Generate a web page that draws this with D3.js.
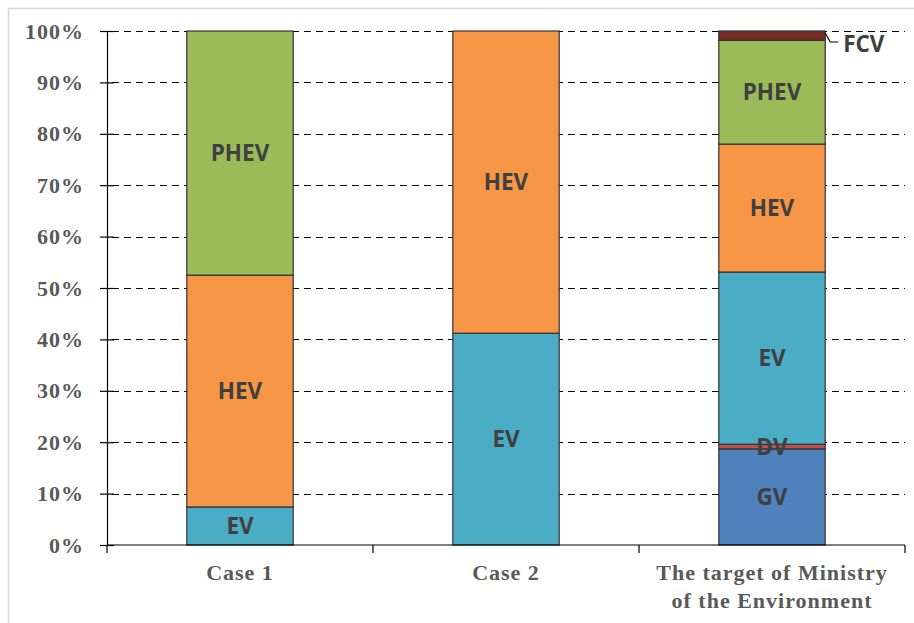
<!DOCTYPE html>
<html>
<head>
<meta charset="utf-8">
<script src="https://cdn.jsdelivr.net/npm/d3@7"></script>
<style>
  body { margin: 0; background: #fff; }
  .tick_label { font-family: "Liberation Serif", serif; font-weight: bold; font-size: 22px; fill: #595959; letter-spacing: 1px; }
  .seg_label { font-family: "Open Sans", sans-serif; font-weight: bold; font-size: 22.5px; fill: #404040; }
</style>
</head>
<body>
<svg id="chart" width="914" height="623"></svg>
<script>
let categories = ["Case 1", "Case 2", "The target of Ministry\nof the Environment"],
  series = ["GV", "DV", "EV", "HEV", "PHEV", "FCV"],
  colors = ["#4F81BD", "#C0504D", "#4BACC6", "#F79646", "#9BBB59", "#772C2A"],
  gv = [0, 0, 18.7],
  dv = [0, 0, 0.9],
  ev = [7.4, 41.2, 33.5],
  hev = [45.1, 58.8, 24.9],
  phev = [47.5, 0, 20.2],
  fcv = [0, 0, 1.8],
  y_ticks = [0, 10, 20, 30, 40, 50, 60, 70, 80, 90, 100];

let width = 914,
  height = 623,
  margins = {left: 107, right: 9, top: 31, bottom: 78};

let rows = categories.map((c, i) => ({
  cat: c, GV: gv[i], DV: dv[i], EV: ev[i], HEV: hev[i], PHEV: phev[i], FCV: fcv[i]
}));

let x = d3.scaleBand()
  .domain(categories)
  .range([margins.left, width - margins.right])
  .paddingInner(0.6)
  .paddingOuter(0.3);
let y = d3.scaleLinear()
  .domain([0, 100])
  .range([height - margins.bottom, margins.top]);
let fill = d3.scaleOrdinal().domain(series).range(colors);

let svg = d3.select("#chart");

// outer frame
svg.append("rect")
  .attr("x", 8.5).attr("y", 8.5)
  .attr("width", width).attr("height", height)
  .attr("fill", "none").attr("stroke", "#d9d9d9").attr("stroke-width", 1.5);

// gridlines
svg.append("g")
  .selectAll("line")
  .data(y_ticks.filter(t => t > 0))
  .enter().append("line")
  .attr("x1", margins.left).attr("x2", width - margins.right)
  .attr("y1", d => Math.round(y(d)) + 0.5).attr("y2", d => Math.round(y(d)) + 0.5)
  .attr("stroke", "#000").attr("stroke-width", 1.2)
  .attr("stroke-dasharray", "7,5")
  .attr("stroke-dashoffset", -5);

// stacked bars
let stack = d3.stack().keys(series)(rows);
svg.append("g")
  .selectAll("g")
  .data(stack)
  .enter().append("g")
  .attr("fill", d => fill(d.key))
  .selectAll("rect")
  .data(d => d.filter(p => p[1] - p[0] > 0))
  .enter().append("rect")
  .attr("x", d => x(d.data.cat))
  .attr("width", x.bandwidth())
  .attr("y", d => y(d[1]))
  .attr("height", d => y(d[0]) - y(d[1]))
  .attr("stroke", "#333").attr("stroke-width", 1.2);

// segment labels
let labels = [];
stack.forEach(s => s.forEach(p => {
  if (p[1] - p[0] > 0 && s.key != "FCV") labels.push({key: s.key, cat: p.data.cat, mid: (p[0] + p[1]) / 2});
}));
svg.append("g")
  .selectAll("text")
  .data(labels)
  .enter().append("text")
  .attr("class", "seg_label")
  .attr("x", d => x(d.cat) + x.bandwidth() / 2)
  .attr("y", d => y(d.mid))
  .attr("dy", "0.36em")
  .attr("text-anchor", "middle")
  .text(d => d.key);

// FCV callout
let last = categories[2],
  fcv_top = y(100),
  bar_right = x(last) + x.bandwidth();
svg.append("path")
  .attr("d", `M${bar_right},${fcv_top + 2} L${bar_right + 5},${fcv_top + 11} L${bar_right + 13},${fcv_top + 11}`)
  .attr("fill", "none").attr("stroke", "#000").attr("stroke-width", 1.2);
svg.append("text")
  .attr("class", "seg_label")
  .attr("x", bar_right + 18)
  .attr("y", fcv_top + 13)
  .attr("dy", "0.36em")
  .text("FCV");

// axes
let y_axis = svg.append("g")
  .attr("transform", `translate(${margins.left}, 0)`)
  .call(d3.axisLeft(y).tickValues(y_ticks).tickFormat(d => d + "%").tickSizeInner(7).tickSizeOuter(0));
y_axis.select(".domain").attr("stroke", "#000").attr("stroke-width", 1.2);
y_axis.selectAll(".tick line").attr("x2", 7).attr("x1", -7).attr("stroke-width", 1.2);
y_axis.selectAll(".tick text").attr("class", "tick_label").attr("x", -23).attr("font-size", null).attr("font-family", null);

let x_base = y(0);
let x_axis = svg.append("g");
x_axis.append("line")
  .attr("x1", margins.left).attr("x2", width - margins.right)
  .attr("y1", x_base).attr("y2", x_base)
  .attr("stroke", "#000").attr("stroke-width", 1.2);
let step = x.step(),
  edges = categories.map((c, i) => x(c) - x.paddingInner() * step / 2).concat([width - margins.right]);
edges[0] = margins.left;
x_axis.selectAll(".edge")
  .data(edges)
  .enter().append("line")
  .attr("x1", d => d).attr("x2", d => d)
  .attr("y1", x_base).attr("y2", x_base + 8)
  .attr("stroke", "#000").attr("stroke-width", 1.2);

x_axis.selectAll(".cat")
  .data(categories)
  .enter().append("text")
  .attr("class", "tick_label")
  .attr("text-anchor", "middle")
  .attr("x", d => x(d) + x.bandwidth() / 2)
  .attr("y", x_base + 35)
  .selectAll("tspan")
  .data(d => d.split("\n"))
  .enter().append("tspan")
  .attr("x", function () { return this.parentNode.getAttribute("x"); })
  .attr("dy", (d, i) => i == 0 ? 0 : 28)
  .text(d => d);
</script>
</body>
</html>
